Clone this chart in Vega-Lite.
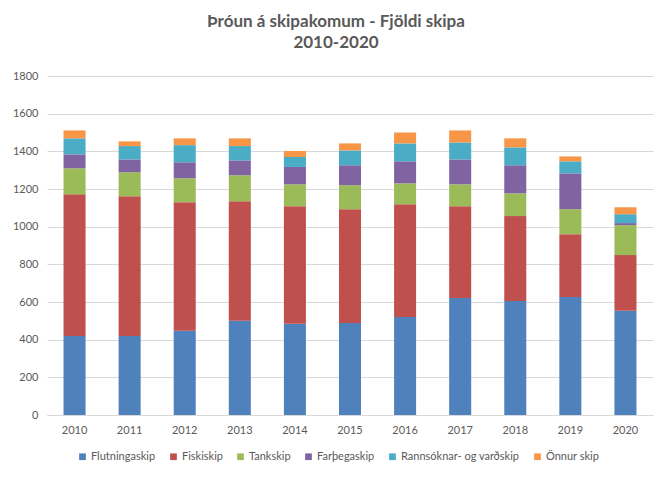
{
  "$schema": "https://vega.github.io/schema/vega-lite/v6.json",
  "autosize": "none",
  "width": 606,
  "height": 339,
  "padding": {"left": 47, "top": 76, "right": 19, "bottom": 68},
  "background": "white",
  "title": {
    "text": ["Þróun á skipakomum - Fjöldi skipa", "2010-2020"],
    "font": "Lato",
    "fontSize": 17,
    "fontWeight": "bold",
    "color": "#595959",
    "lineHeight": 21,
    "anchor": "middle",
    "dx": -14,
    "offset": 18
  },
  "datasets": {
    "skip": [
      {"Ar": "2010", "Flutningaskip": 420, "Fiskiskip": 752, "Tankskip": 138, "Farþegaskip": 74, "Rannsóknar- og varðskip": 85, "Önnur skip": 42},
      {"Ar": "2011", "Flutningaskip": 420, "Fiskiskip": 742, "Tankskip": 127, "Farþegaskip": 68, "Rannsóknar- og varðskip": 71, "Önnur skip": 25},
      {"Ar": "2012", "Flutningaskip": 448, "Fiskiskip": 682, "Tankskip": 127, "Farþegaskip": 85, "Rannsóknar- og varðskip": 91, "Önnur skip": 36},
      {"Ar": "2013", "Flutningaskip": 501, "Fiskiskip": 634, "Tankskip": 138, "Farþegaskip": 79, "Rannsóknar- og varðskip": 76, "Önnur skip": 41},
      {"Ar": "2014", "Flutningaskip": 485, "Fiskiskip": 624, "Tankskip": 116, "Farþegaskip": 92, "Rannsóknar- og varðskip": 53, "Önnur skip": 32},
      {"Ar": "2015", "Flutningaskip": 489, "Fiskiskip": 604, "Tankskip": 127, "Farþegaskip": 106, "Rannsóknar- og varðskip": 79, "Önnur skip": 37},
      {"Ar": "2016", "Flutningaskip": 521, "Fiskiskip": 598, "Tankskip": 111, "Farþegaskip": 117, "Rannsóknar- og varðskip": 95, "Önnur skip": 58},
      {"Ar": "2017", "Flutningaskip": 621, "Fiskiskip": 488, "Tankskip": 116, "Farþegaskip": 132, "Rannsóknar- og varðskip": 90, "Önnur skip": 64},
      {"Ar": "2018", "Flutningaskip": 605, "Fiskiskip": 451, "Tankskip": 121, "Farþegaskip": 149, "Rannsóknar- og varðskip": 95, "Önnur skip": 48},
      {"Ar": "2019", "Flutningaskip": 627, "Fiskiskip": 333, "Tankskip": 133, "Farþegaskip": 190, "Rannsóknar- og varðskip": 64, "Önnur skip": 26},
      {"Ar": "2020", "Flutningaskip": 553, "Fiskiskip": 296, "Tankskip": 159, "Farþegaskip": 11, "Rannsóknar- og varðskip": 47, "Önnur skip": 37}
    ],
    "tegundir": [
      {"Tegund": "Flutningaskip", "rod": 1},
      {"Tegund": "Fiskiskip", "rod": 2},
      {"Tegund": "Tankskip", "rod": 3},
      {"Tegund": "Farþegaskip", "rod": 4},
      {"Tegund": "Rannsóknar- og varðskip", "rod": 5},
      {"Tegund": "Önnur skip", "rod": 6}
    ]
  },
  "data": {"name": "skip"},
  "transform": [
    {"fold": ["Flutningaskip", "Fiskiskip", "Tankskip", "Farþegaskip", "Rannsóknar- og varðskip", "Önnur skip"], "as": ["Tegund", "Fjoldi"]},
    {"lookup": "Tegund", "from": {"data": {"name": "tegundir"}, "key": "Tegund", "fields": ["rod"]}}
  ],
  "mark": {"type": "bar"},
  "encoding": {
    "x": {
      "field": "Ar",
      "type": "ordinal",
      "title": null,
      "scale": {"paddingInner": 0.6, "paddingOuter": 0.3},
      "axis": {
        "labelAngle": 0,
        "ticks": false,
        "domainColor": "#d9d9d9",
        "labelPadding": 9,
        "labelFont": "Lato",
        "labelFontSize": 11,
        "labelColor": "#595959"
      }
    },
    "y": {
      "field": "Fjoldi",
      "type": "quantitative",
      "title": null,
      "stack": "zero",
      "scale": {"domain": [0, 1800]},
      "axis": {
        "values": [0, 200, 400, 600, 800, 1000, 1200, 1400, 1600, 1800],
        "format": "d",
        "domain": false,
        "ticks": false,
        "gridColor": "#d9d9d9",
        "labelPadding": 9,
        "labelFont": "Lato",
        "labelFontSize": 11,
        "labelColor": "#595959"
      }
    },
    "color": {
      "field": "Tegund",
      "type": "nominal",
      "sort": ["Flutningaskip", "Fiskiskip", "Tankskip", "Farþegaskip", "Rannsóknar- og varðskip", "Önnur skip"],
      "scale": {
        "domain": ["Flutningaskip", "Fiskiskip", "Tankskip", "Farþegaskip", "Rannsóknar- og varðskip", "Önnur skip"],
        "range": ["#4F81BD", "#C0504D", "#9BBB59", "#8064A2", "#4BACC6", "#F79646"]
      },
      "legend": {
        "title": null,
        "orient": "none",
        "direction": "horizontal",
        "legendX": 30,
        "legendY": 375,
        "symbolType": "square",
        "symbolSize": 45,
        "symbolStrokeWidth": 0,
        "columnPadding": 12,
        "labelOffset": 3,
        "labelFont": "Lato",
        "labelFontSize": 11,
        "labelColor": "#595959"
      }
    },
    "order": {"field": "rod", "type": "quantitative", "sort": "ascending"}
  },
  "config": {
    "view": {"stroke": null}
  }
}
